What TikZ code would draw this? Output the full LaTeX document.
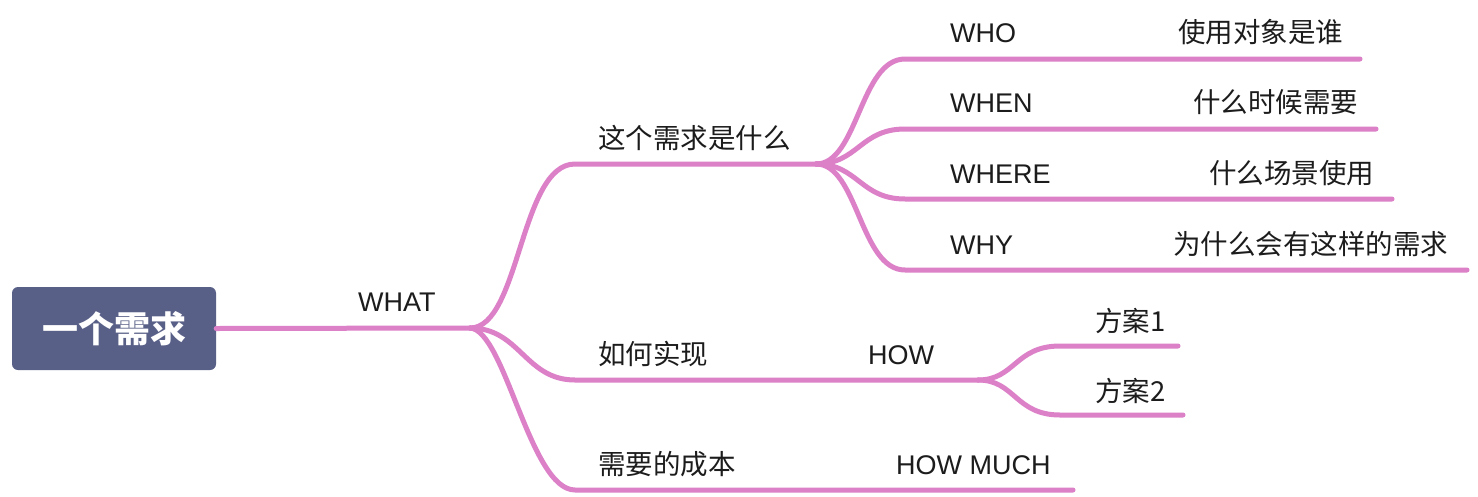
\documentclass[tikz,border=0pt]{standalone}
\usepackage{fontspec}
\setmainfont{Liberation Sans}
\newfontfamily\cjk{Noto Sans CJK SC}
\definecolor{lnk}{RGB}{220,128,200}
\definecolor{rootc}{RGB}{89,96,135}
\definecolor{txtc}{RGB}{28,28,28}
\begin{document}
\begin{tikzpicture}[x=1pt,y=-1pt,
  br/.style={line width=5pt, draw=lnk, line cap=round, line join=round},
  lat/.style={inner sep=0pt, anchor=base west, font=\fontsize{27}{30}\selectfont, text=txtc},
  zh/.style={inner sep=0pt, anchor=base west, font=\cjk\fontsize{27.5}{30}\selectfont, text=txtc},
  rootbox/.style={fill=rootc, rounded corners=6pt, minimum width=204pt, minimum height=83pt,
    inner sep=0pt, text=white, font=\cjk\bfseries\fontsize{36}{40}\selectfont}]
\useasboundingbox (0,0) rectangle (1478,496);
\fill[white] (0,0) rectangle (1478,496);
% root
\node[rootbox] (root) at (114,328.5) {一个需求};
% branch points and underline ends
\coordinate (what) at (470,328);
\coordinate (q1s) at (575,164);  \coordinate (q1b) at (816,164);
\coordinate (q2s) at (575,380);  \coordinate (q2b) at (978,380);
\coordinate (q3s) at (575,490);  \coordinate (q3e) at (1073,490);
\coordinate (whos) at (905,59);   \coordinate (whoe) at (1360,59);
\coordinate (whens) at (905,129); \coordinate (whene) at (1376,129);
\coordinate (wheres) at (905,199);\coordinate (wheree) at (1392,199);
\coordinate (whys) at (905,270);  \coordinate (whye) at (1467,270);
\coordinate (p1s) at (1060,346);  \coordinate (p1e) at (1178,346);
\coordinate (p2s) at (1060,415);  \coordinate (p2e) at (1183,415);
% connectors
\draw[br] (root.east) -- (what);
\draw[br] (what) .. controls +(50,0) and +(-55,0) .. (q1s) -- (q1b);
\draw[br] (what) .. controls +(50,0) and +(-50,0) .. (q2s) -- (q2b);
\draw[br] (what) .. controls +(35,2) and +(-45,0) .. (q3s) -- (q3e);
\draw[br] (q1b) .. controls +(42,0) and +(-45,0) .. (whos) -- (whoe);
\draw[br] (q1b) .. controls +(42,0) and +(-45,0) .. (whens) -- (whene);
\draw[br] (q1b) .. controls +(42,0) and +(-45,0) .. (wheres) -- (wheree);
\draw[br] (q1b) .. controls +(42,0) and +(-45,0) .. (whys) -- (whye);
\draw[br] (q2b) .. controls +(37,0) and +(-45,0) .. (p1s) -- (p1e);
\draw[br] (q2b) .. controls +(37,0) and +(-45,0) .. (p2s) -- (p2e);
% labels
\node[lat] (tWHAT) at (358,311) {WHAT};
\node[zh] (tq1) at (598,148) {这个需求是什么};
\node[zh] (tq2) at (598,364) {如何实现};
\node[lat] (tHOW) at (868,364) {HOW};
\node[zh] (tq3) at (598,474) {需要的成本};
\node[lat] (tMUCH) at (896,474) {HOW MUCH};
\node[lat] (tWHO) at (950,42) {WHO};
\node[zh] (tWHOz) at (1178,42) {使用对象是谁};
\node[lat] (tWHEN) at (950,112) {WHEN};
\node[zh] (tWHENz) at (1193,112) {什么时候需要};
\node[lat] (tWHERE) at (950,183) {WHERE};
\node[zh] (tWHEREz) at (1209,183) {什么场景使用};
\node[lat] (tWHY) at (950,254) {WHY};
\node[zh] (tWHYz) at (1173,254) {为什么会有这样的需求};
\node[zh] (tp1) at (1095,331) {方案1};
\node[zh] (tp2) at (1095,401) {方案2};
\end{tikzpicture}
\end{document}
